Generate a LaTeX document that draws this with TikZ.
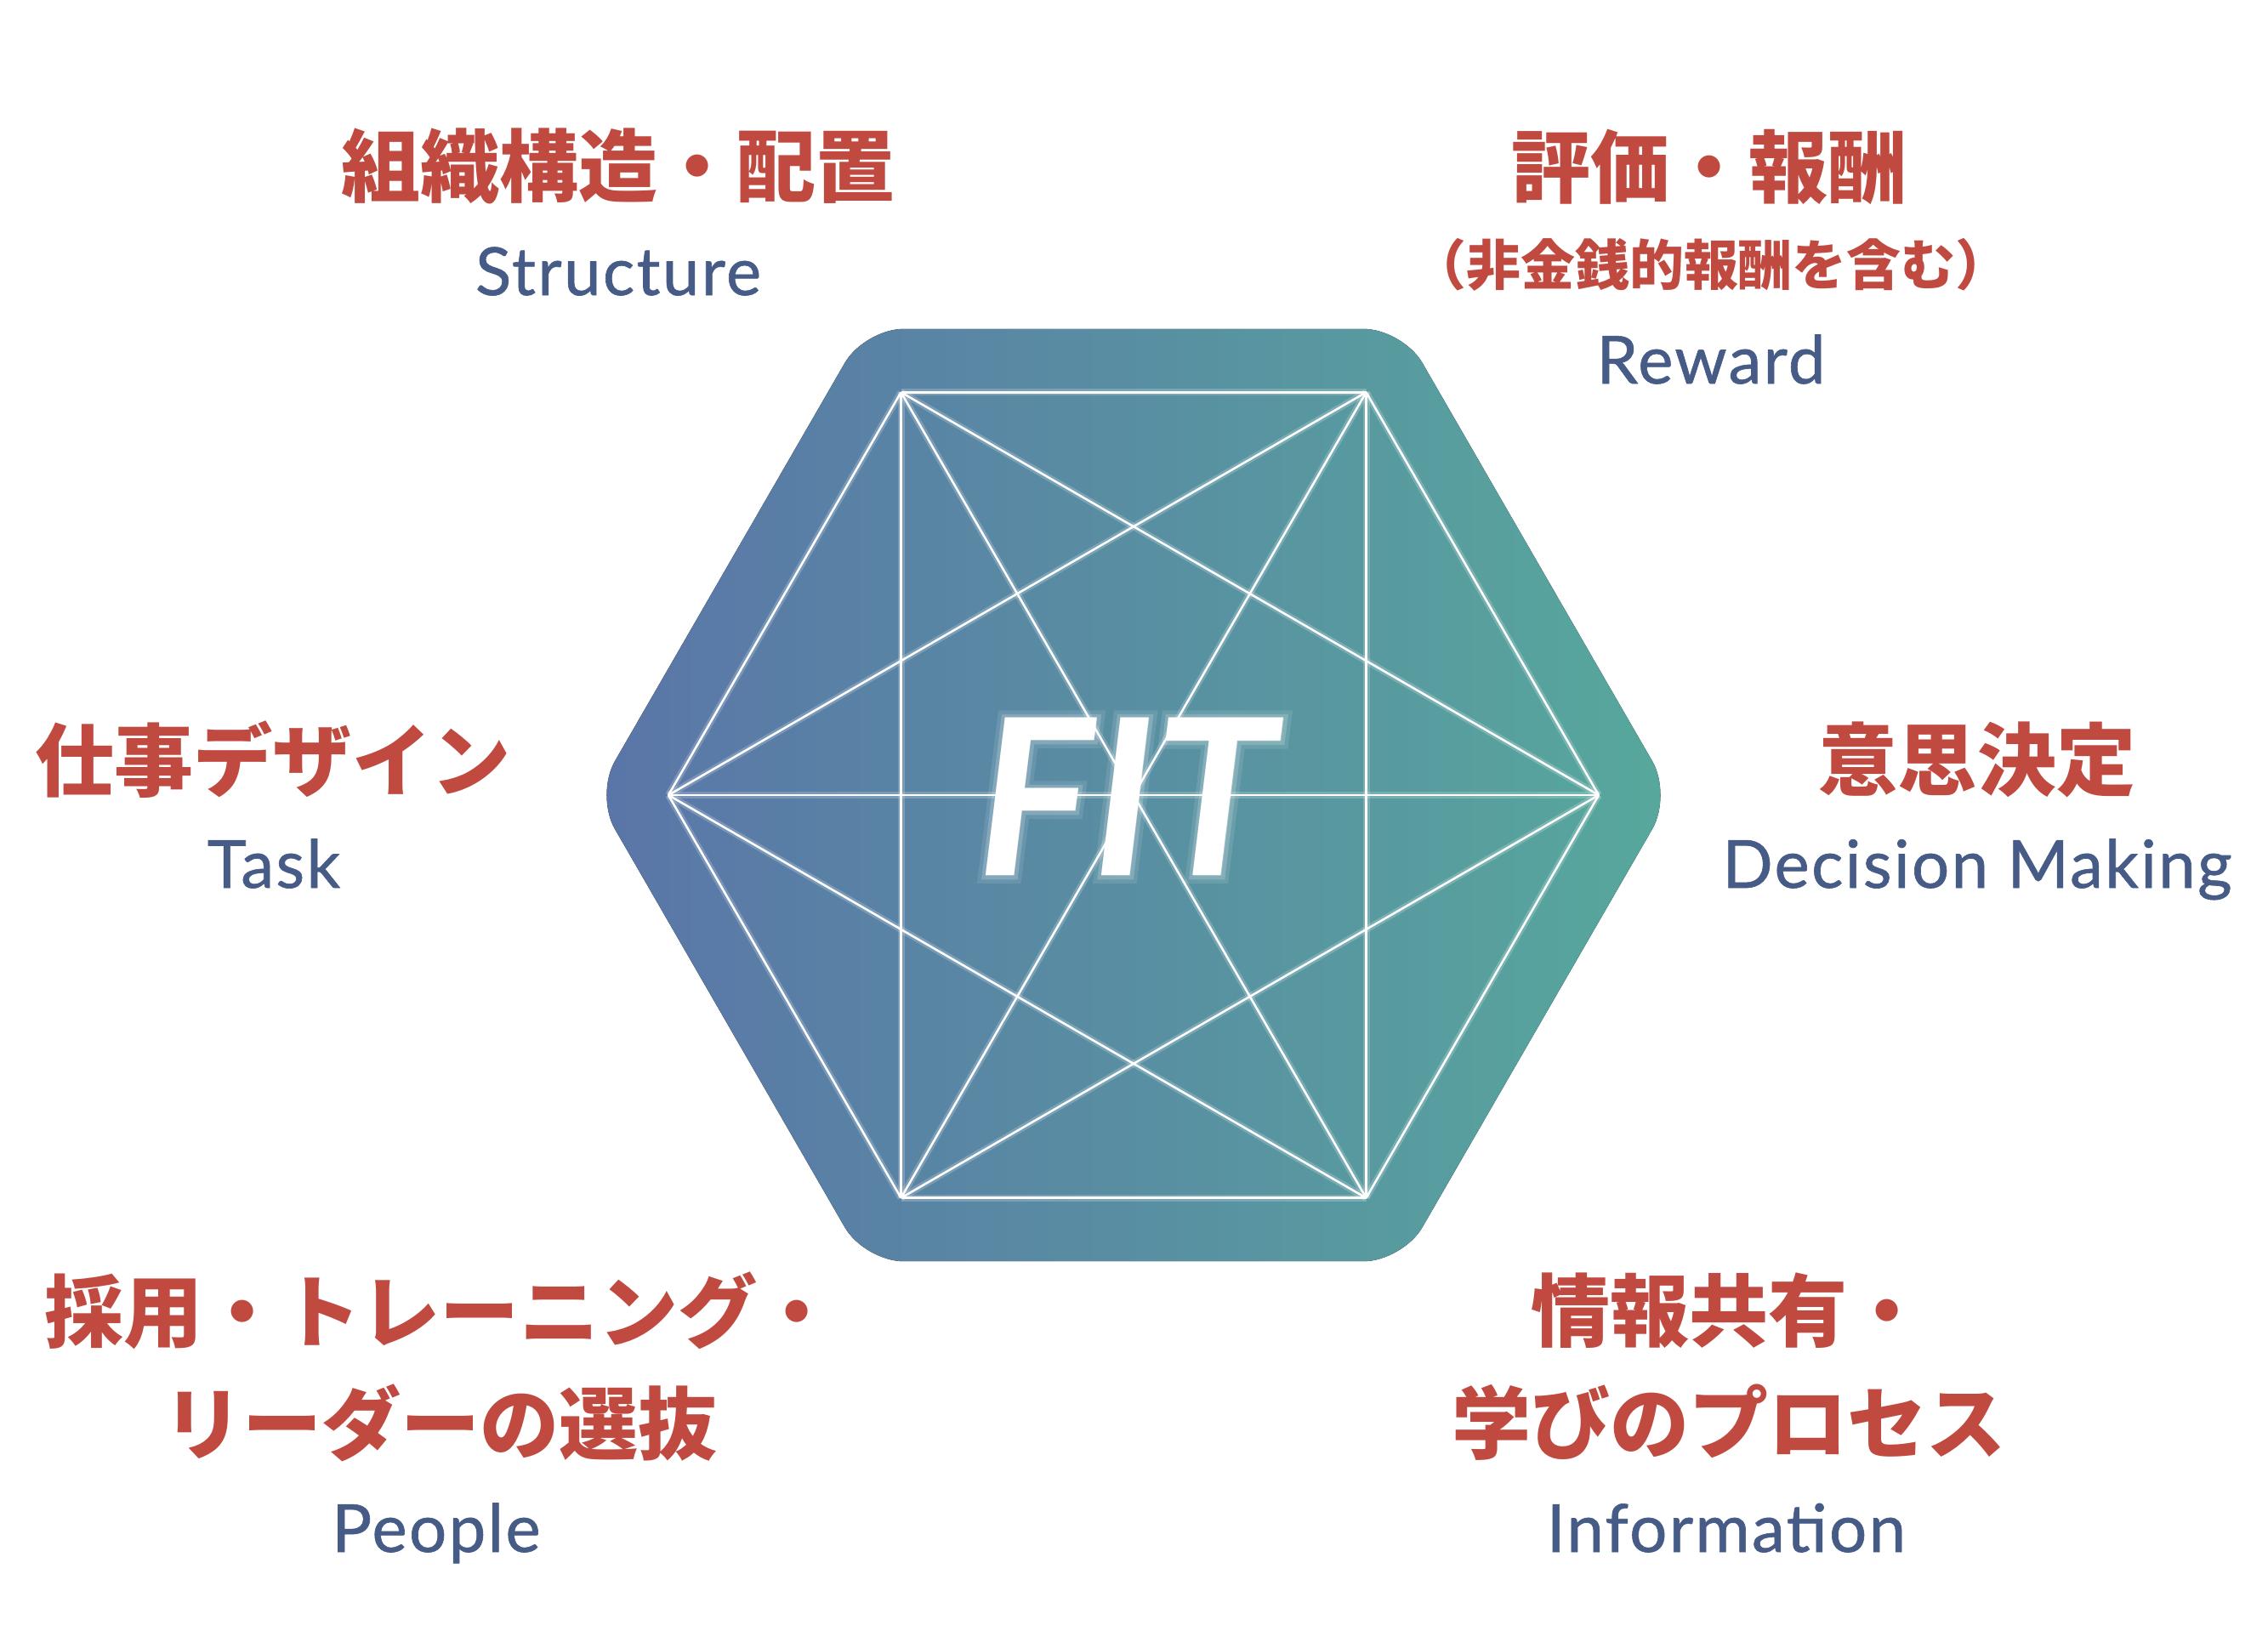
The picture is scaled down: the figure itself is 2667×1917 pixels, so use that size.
\documentclass[tikz,border=0pt]{standalone}
\usepackage{fontspec}
\usepackage{tikz}
\usetikzlibrary{calc,positioning}
\newfontfamily\jafont{Noto Sans CJK JP}
\newfontfamily\enfont{Lato}[LetterSpace=3, FakeBold=0.8]
\newfontface\fitfont{Lato Bold Italic}
\newfontface\glowfonta{Lato Bold Italic}[FakeBold=7]
\newfontface\glowfontb{Lato Bold Italic}[FakeBold=3.5]
\definecolor{labelred}{RGB}{192,74,64}
\definecolor{labelblue}{RGB}{70,92,135}
\definecolor{hexleft}{RGB}{90,117,168}
\definecolor{hexright}{RGB}{87,168,156}

\begin{document}
\begin{tikzpicture}[x=0.1mm, y=-0.1mm]
\tikzstyle{ja}=[text=labelred, font=\jafont\bfseries\fontsize{26.5}{37.6}\selectfont, inner sep=0pt, align=center]
\tikzstyle{jasub}=[text=labelred, font=\jafont\bfseries\fontsize{18.2}{22}\selectfont, inner sep=0pt]
\tikzstyle{en}=[text=labelblue, font=\enfont\fontsize{22.2}{26}\selectfont, inner sep=0pt, anchor=base]
\tikzstyle{wire}=[white, line width=0.25mm, preaction={draw=white, opacity=0.2, line width=0.8mm}]
\tikzstyle{fittext}=[text=white, font=\fitfont\fontsize{73}{73}\selectfont, inner sep=0pt]
\tikzstyle{fitglow}=[text=white, inner sep=0pt]
  \useasboundingbox (0,0) rectangle (2667,1917);
  \coordinate (c) at (1333,935);
  \coordinate (fitpos) at (1325,937);
  % hexagon corners, outer and inner
  \foreach \i in {0,...,5} {
    \coordinate (o\i) at ($(c)+(\i*60:633)$);
    \coordinate (v\i) at ($(c)+(\i*60:547)$);
  }
  \fill[left color=hexleft, right color=hexright, rounded corners=4.6mm]
    ($(o0)!0.5!(o1)$) -- (o1) -- (o2) -- (o3) -- (o4) -- (o5) -- (o0) -- cycle;
  % every corner joined to every other
  \foreach \i in {0,...,4} {
    \pgfmathtruncatemacro\k{\i+1}
    \foreach \j in {\k,...,5}
      \draw[wire] (v\i) -- (v\j);
  }
  \node[fitglow, text opacity=0.1, font=\glowfonta\fontsize{73}{73}\selectfont] (fitglowa) at (fitpos) {FIT};
  \node[fitglow, text opacity=0.18, font=\glowfontb\fontsize{73}{73}\selectfont] (fitglowb) at (fitpos) {FIT};
  \node[fittext] (fit) at (fitpos) {FIT};

  \node[ja] (structure) at (727,195) {組織構造・配置};
  \node[en] (structureen) at (727,347) {Structure};
  \node[ja] (reward) at (2010,196) {評価・報酬};
  \node[jasub] (rewardsub) at (2012,311) {（非金銭的報酬を含む）};
  \node[en] (rewarden) at (2012,451) {Reward};
  \node[ja] (task) at (321,893) {仕事デザイン};
  \node[en] (tasken) at (322,1044) {Task};
  \node[ja] (decision) at (2325,893) {意思決定};
  \node[en] (decisionen) at (2325,1044) {Decision Making};
  \node[ja] (people) at (518,1607) {採用・トレーニング・\\リーダーの選抜};
  \node[en] (peopleen) at (513,1825) {People};
  \node[ja] (info) at (2033,1607) {情報共有・\\学びのプロセス};
  \node[en] (infoen) at (2030,1825) {Information};
\end{tikzpicture}
\end{document}
